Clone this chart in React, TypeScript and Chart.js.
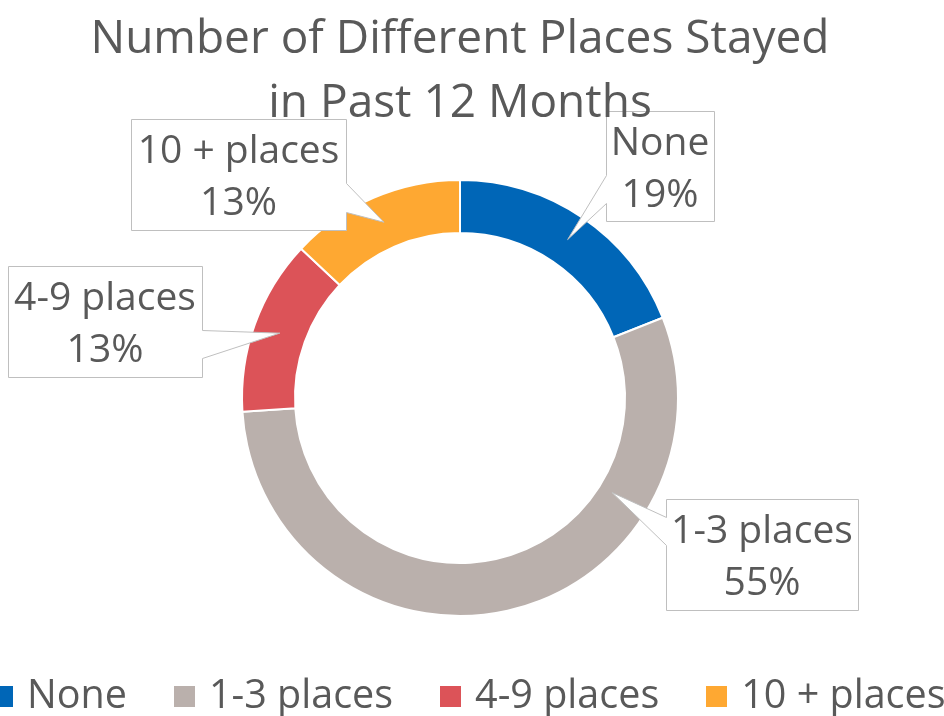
import React, { useEffect, useRef } from "react";
import { Chart, registerables } from "chart.js";

Chart.register(...registerables);

const TITLE_LINES = ["Number of Different Places Stayed", "in Past 12 Months"];
const CATEGORIES = ["None", "1-3 places", "4-9 places", "10 + places"];
const PERCENTS = [19, 55, 13, 13];
const COLORS = ["#0066B7", "#BAB0AC", "#DC5358", "#FEA832"];

const FONT = '"Open Sans", "Noto Sans", sans-serif';
const TEXT_COLOR = "#595959";
const BOX_BORDER = "#BFBFBF";

// callout layout (box geometry, wedge base on box side, anchor inside arc)
const CALLOUTS = [
  { x: 606, y: 111, w: 108, h: 110, side: "left", b1: 175, b2: 203, af: 0.5, rf: 0.5 },
  { x: 666, y: 499, w: 192, h: 111, side: "left", b1: 517, b2: 545, af: 0.27, rf: 0.26 },
  { x: 8, y: 266, w: 194, h: 111, side: "right", b1: 330, b2: 358, af: 0.5, rf: 0.5 },
  { x: 131, y: 119, w: 215, h: 111, side: "right", b1: 183, b2: 212, af: 0.5, rf: 0.5 },
];

function drawText(ctx: CanvasRenderingContext2D, text: string, x: number, y: number, size: number, align: CanvasTextAlign) {
  ctx.save();
  ctx.font = `${size}px ${FONT}`;
  ctx.fillStyle = TEXT_COLOR;
  ctx.textBaseline = "alphabetic";
  ctx.textAlign = align;
  ctx.fillText(text, x, y);
  ctx.restore();
}

const overlayPlugin = {
  id: "overlay",
  afterDatasetsDraw(chart: any) {
    const ctx: CanvasRenderingContext2D = chart.ctx;
    const meta = chart.getDatasetMeta(0);
    const total = PERCENTS.reduce((a, b) => a + b, 0);
    meta.data.forEach((arc: any, i: number) => {
      const c = CALLOUTS[i];
      const p = arc.getProps(["x", "y", "startAngle", "endAngle", "innerRadius", "outerRadius"], true);
      const ang = p.startAngle + c.af * (p.endAngle - p.startAngle);
      const r = p.innerRadius + c.rf * (p.outerRadius - p.innerRadius);
      const tx = p.x + Math.cos(ang) * r;
      const ty = p.y + Math.sin(ang) * r;
      const L = c.x + 0.5, R = c.x + c.w + 0.5, T = c.y + 0.5, B = c.y + c.h + 0.5;
      ctx.save();
      ctx.beginPath();
      if (c.side === "left") {
        ctx.moveTo(L, T);
        ctx.lineTo(R, T);
        ctx.lineTo(R, B);
        ctx.lineTo(L, B);
        ctx.lineTo(L, c.b2 + 0.5);
        ctx.lineTo(tx, ty);
        ctx.lineTo(L, c.b1 + 0.5);
      } else {
        ctx.moveTo(L, T);
        ctx.lineTo(R, T);
        ctx.lineTo(R, c.b1 + 0.5);
        ctx.lineTo(tx, ty);
        ctx.lineTo(R, c.b2 + 0.5);
        ctx.lineTo(R, B);
        ctx.lineTo(L, B);
      }
      ctx.closePath();
      ctx.fillStyle = "#FFFFFF";
      ctx.fill();
      ctx.strokeStyle = BOX_BORDER;
      ctx.lineWidth = 1;
      ctx.stroke();
      ctx.restore();
      const cx = c.x + c.w / 2;
      const pct = Math.round((PERCENTS[i] / total) * 100) + "%";
      drawText(ctx, CATEGORIES[i], cx, c.y + 44, 39, "center");
      drawText(ctx, pct, cx, c.y + 96, 39, "center");
    });
  },
  afterDraw(chart: any) {
    const ctx: CanvasRenderingContext2D = chart.ctx;
    // title
    drawText(ctx, TITLE_LINES[0], 460, 53, 46, "center");
    drawText(ctx, TITLE_LINES[1], 460, 117, 46, "center");
    // legend
    const size = 39.5;
    const box = 21;
    const gapBoxText = 14;
    const gapItems = 47;
    ctx.save();
    ctx.font = `${size}px ${FONT}`;
    const widths = CATEGORIES.map((t) => ctx.measureText(t).width);
    ctx.restore();
    let x = -8;
    const baseline = 708;
    CATEGORIES.forEach((t, i) => {
      ctx.save();
      ctx.fillStyle = COLORS[i];
      ctx.fillRect(Math.round(x), 686, box, box);
      ctx.restore();
      drawText(ctx, t, x + box + gapBoxText, baseline, size, "left");
      x += box + gapBoxText + widths[i] + gapItems;
    });
  },
};

export default function App() {
  const ref = useRef<HTMLCanvasElement | null>(null);
  useEffect(() => {
    document.body.style.margin = "0";
    const canvas = ref.current!;
    const chart = new Chart(canvas, {
      type: "doughnut",
      data: {
        labels: CATEGORIES,
        datasets: [
          {
            data: PERCENTS,
            backgroundColor: COLORS,
            borderColor: "#FFFFFF",
            borderWidth: 2,
          },
        ],
      },
      options: {
        responsive: false,
        animation: false,
        devicePixelRatio: 1,
        radius: 218,
        cutout: "75.7%",
        layout: { padding: { left: 242, right: 266, top: 180, bottom: 100 } },
        plugins: {
          legend: { display: false },
          tooltip: { enabled: false },
          title: { display: false },
        },
      } as any,
      plugins: [overlayPlugin],
    });
    return () => chart.destroy();
  }, []);
  return (
    <div style={{ position: "absolute", left: 0, top: 0, width: 944, height: 716, background: "#fff" }}>
      <canvas ref={ref} width={944} height={716} style={{ display: "block", width: 944, height: 716 }} />
    </div>
  );
}
